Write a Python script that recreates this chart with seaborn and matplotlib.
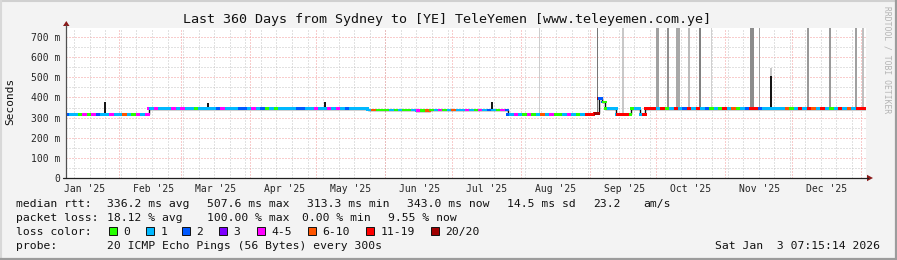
import numpy as np
import pandas as pd
import matplotlib
matplotlib.use("Agg")
import matplotlib.pyplot as plt
from matplotlib.patches import Rectangle, Polygon
from matplotlib.lines import Line2D
import seaborn as sns

# ---------------- data ----------------
start = "2025-01-08 07:15"
end = "2026-01-03 07:15"

# median rtt as a step function (ms)
level_dates = ["2025-01-08 07:15", "2025-02-14 12:00", "2025-05-24 00:00", "2025-06-15 00:00",
               "2025-06-21 00:00", "2025-07-26 00:00", "2025-09-03 00:00", "2025-09-05 00:00",
               "2025-09-06 12:00", "2025-09-08 00:00", "2025-09-13 00:00", "2025-09-19 12:00",
               "2025-09-23 12:00", "2025-09-26 00:00"]
level_values = [316, 344, 338, 335, 338, 316, 321, 396, 378, 344, 316, 344, 316, 344]

# short median spikes
spike_dates = ["2025-01-26 00:00", "2025-03-13 00:00", "2025-05-05 00:00", "2025-07-19 00:00",
               "2025-11-21 12:00"]
spike_peaks = [378, 372, 378, 378, 507.6]

# loss class per 2-day bin (index into loss_labels)
loss_codes = ("2110404211411510414"
              "141114141101"
              "111241112214120101111221141141"
              "41211111500010100140"
              "501401511410412104214104015140"
              "014101667201166601166"
              "616016126161201061501266211111501616516101615166")
loss_labels = ["0", "1", "2", "3", "4-5", "6-10", "11-19", "20/20"]
loss_colors = ["#26ff00", "#00b8ff", "#0059ff", "#7e00ff", "#ff00ff", "#ff5500", "#ff0000", "#a00000"]

# smoke (ping spread) columns
smoke_dates = ["2025-08-09 14:00", "2025-09-04 14:00", "2025-09-16 00:00", "2025-10-01 07:00",
               "2025-10-06 05:00", "2025-10-10 17:00", "2025-10-15 17:00", "2025-10-20 14:00",
               "2025-10-25 14:00", "2025-11-13 00:00", "2025-11-16 14:00", "2025-11-21 14:00",
               "2025-12-08 05:00", "2025-12-18 02:00", "2025-12-29 19:00", "2026-01-02 00:00"]
smoke_width_days = [0.45, 0.5, 1.2, 1.3, 0.5, 1.5, 1.0, 0.7, 0.45, 1.4, 0.45, 1.0, 0.5, 0.5, 0.5, 0.9]
smoke_shades = ["#cccccc", "#777777", "#c8c8c8", "#a0a0a0", "#909090", "#a8a8a8", "#bbbbbb", "#808080",
                "#d0d0d0", "#8c8c8c", "#a0a0a0", "#c8c8c8", "#999999", "#999999", "#a0a0a0", "#c0c0c0"]
smoke_tops = [1000, 1000, 1000, 1000, 1000, 1000, 1000, 1000, 1000, 1000, 1000, 545, 1000, 1000, 1000, 1000]

y_ticks = [0, 100, 200, 300, 400, 500, 600, 700]
y_tick_labels = ["0", "100 m", "200 m", "300 m", "400 m", "500 m", "600 m", "700 m"]
month_labels = ["Jan '25", "Feb '25", "Mar '25", "Apr '25", "May '25", "Jun '25",
                "Jul '25", "Aug '25", "Sep '25", "Oct '25", "Nov '25", "Dec '25"]

title = "Last 360 Days from Sydney to [YE] TeleYemen [www.teleyemen.com.ye]"

# ---------------- figure ----------------
W, H = 897, 260
sns.set_style("white")
plt.rcParams["font.family"] = ["DejaVu Sans Mono", "DejaVu Sans"]
fig = plt.figure(figsize=(W / 100, H / 100), dpi=100, facecolor="#f3f3f3")

def fx(px):
    return px / W

def fy(py):
    return 1 - py / H

ax = fig.add_axes([fx(66), fy(178), fx(866) - fx(66), fy(28) - fy(178)])
ax.set_facecolor("white")
t0, t1 = pd.Timestamp(start), pd.Timestamp(end)
ax.set_xlim(t0, t1)
ax.set_ylim(0, 745)
for s in ax.spines.values():
    s.set_visible(False)

# grid
minor_c, major_c = "#c4c4c4", "#f29a9a"
ls = (0, (1, 2))
for v in range(50, 745, 100):
    ax.axhline(v, color=minor_c, lw=0.72, ls=ls, zorder=0)
for v in range(100, 745, 100):
    ax.axhline(v, color=major_c, lw=0.72, ls=ls, zorder=0)
for d in pd.date_range("2025-01-12", end, freq="7D"):
    ax.axvline(d, color=minor_c, lw=0.72, ls=ls, zorder=0)
month_starts = pd.date_range("2025-02-01", end, freq="MS")
for d in month_starts:
    ax.axvline(d, color=major_c, lw=0.72, ls=ls, zorder=0)

# step lookup
lvl_t = pd.to_datetime(level_dates)
def level_at(ts):
    i = np.searchsorted(lvl_t.values, pd.to_datetime(ts).values, side="right") - 1
    return np.array(level_values, dtype=float)[i]

# smoke
sd = pd.to_datetime(smoke_dates)
sb = level_at(smoke_dates)
ax.bar(sd, np.array(smoke_tops) - sb, bottom=sb, width=smoke_width_days,
       color=smoke_shades, linewidth=0, zorder=1)

# black step outline
sx = pd.to_datetime(level_dates + [end])
sy = level_values + [level_values[-1]]
sns.lineplot(x=sx, y=sy, ax=ax, color="#111111", lw=1.0, drawstyle="steps-post",
             estimator=None, sort=False, zorder=2)

# spikes
spd = pd.to_datetime(spike_dates)
ax.vlines(spd, level_at(spike_dates), spike_peaks, color="#111111", lw=1.4, zorder=3)

# coloured median
times = pd.date_range(start, end, freq="3h")
levels = level_at(times)
bins = np.clip(((times - t0) / pd.Timedelta(days=2)).astype(int), 0, len(loss_codes) - 1)
codes = [loss_labels[int(loss_codes[b])] for b in bins]
df = pd.DataFrame({"t": times, "rtt": levels, "loss": codes})
sns.scatterplot(data=df, x="t", y="rtt", hue="loss", hue_order=loss_labels,
                palette=dict(zip(loss_labels, loss_colors)), marker="s", s=4.0,
                linewidth=0, legend=False, ax=ax, zorder=4)

# ticks
ax.set_yticks(y_ticks)
ax.set_yticklabels(y_tick_labels)
ax.tick_params(axis="y", length=2.2, width=0.7, color="#888888", pad=2.2, labelsize=7)
mid = [pd.Timestamp(2025, m, 16, 12) for m in range(1, 13)]
ax.set_xticks(mid)
ax.set_xticklabels(month_labels)
ax.tick_params(axis="x", length=0, pad=4, labelsize=7)
ax.set_xlabel("")
ax.set_ylabel("")

# axes lines + arrows (figure coords)
axis_c = "#505050"
fig.add_artist(Line2D([fx(66), fx(66)], [fy(178), fy(25)], color=axis_c, lw=0.9))
fig.add_artist(Line2D([fx(63), fx(868)], [fy(178), fy(178)], color="#202020", lw=0.9))
arrow_c = "#8a1a1a"
fig.add_artist(Polygon([[fx(63), fy(26)], [fx(69.5), fy(26)], [fx(66.3), fy(21)]], closed=True,
                       color=arrow_c, lw=0))
fig.add_artist(Polygon([[fx(867), fy(174.8)], [fx(867), fy(181.2)], [fx(873), fy(178)]], closed=True,
                       color=arrow_c, lw=0))

# texts
fig.text(fx(447), fy(19), title, ha="center", va="center", fontsize=9.6, color="#111111")
fig.text(fx(10), fy(101), "Seconds", ha="center", va="center", rotation=90, fontsize=8,
         color="#111111")
fig.text(fx(887), fy(60), "RRDTOOL / TOBI OETIKER", ha="center", va="center", rotation=270,
         fontsize=5.8, color="#b4b4b4")

fs = 8.2
rows = [
    (204, [(16, "median rtt:"), (107, "336.2 ms avg"), (207, "507.6 ms max"), (307, "313.3 ms min"),
           (407, "343.0 ms now"), (507, "14.5 ms sd"), (593, "23.2"), (643, "am/s")]),
    (218, [(16, "packet loss:"), (107, "18.12 % avg"), (207, "100.00 % max"), (302, "0.00 % min"),
           (388, "9.55 % now")]),
    (246, [(16, "probe:"), (107, "20 ICMP Echo Pings (56 Bytes) every 300s")]),
]
for y, items in rows:
    for x, s in items:
        fig.text(fx(x), fy(y), s, ha="left", va="center", fontsize=fs, color="#111111")
fig.text(fx(880), fy(246), "Sat Jan  3 07:15:14 2026", ha="right", va="center", fontsize=fs,
         color="#111111")

fig.text(fx(16), fy(232), "loss color:", ha="left", va="center", fontsize=fs, color="#111111")
box_x = [109, 146, 182, 219, 257, 308, 366, 431]
for bx, lab, col in zip(box_x, loss_labels, loss_colors):
    fig.add_artist(Rectangle((fx(bx), fy(235)), fx(8), 8 / H, facecolor=col,
                             edgecolor="#111111", lw=0.7))
    fig.text(fx(bx + 14.5), fy(232), lab, ha="left", va="center", fontsize=fs, color="#111111")

# frame
fig.add_artist(Line2D([0, 1], [fy(0.8), fy(0.8)], color="#d0d0d0", lw=1.5))
fig.add_artist(Line2D([fx(0.8), fx(0.8)], [0, 1], color="#d8d8d8", lw=1.5))
fig.add_artist(Line2D([0, 1], [fy(258.9), fy(258.9)], color="#9c9c9c", lw=1.6))
fig.add_artist(Line2D([fx(895.9), fx(895.9)], [0, 1], color="#9c9c9c", lw=1.6))

fig.savefig("out.png", dpi=100, facecolor=fig.get_facecolor())
